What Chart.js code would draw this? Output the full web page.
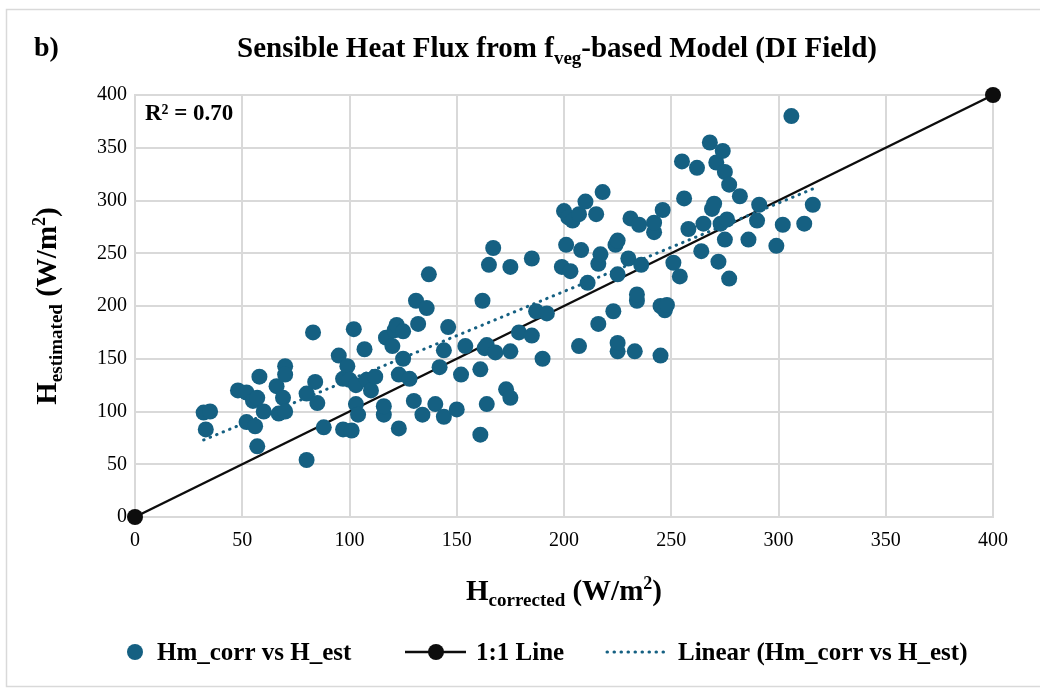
<!DOCTYPE html>
<html><head><meta charset="utf-8">
<script src="https://cdn.jsdelivr.net/npm/chart.js@4.4.1/dist/chart.umd.min.js"></script>
<style>html,body{margin:0;padding:0;background:#fff;}#wrap{width:1040px;height:688px;}</style>
</head><body><div id="wrap"><canvas id="c" width="1040" height="688"></canvas></div>
<script>
// ---- data ----
const hCorrected = [32,35,33,48,52,52,55,57,58,56,57,60,66,67,69,70,70,70,80,80,83,84,85,88,95,97,97,99,100,101,102,103,103,104,107,108,110,112,116,116,117,120,121,122,123,123,125,125,128,130,131,132,134,136,137,140,142,144,144,146,150,152,154,161,161,162,163,164,164,165,167,168,173,175,175,175,179,185,185,187,190,192,199,200,201,202,203,204,207,207,208,210,211,215,216,216,217,218,223,224,225,225,225,225,230,231,233,234,234,236,235,242,242,245,245,246,247,248,251,254,255,256,258,262,264,265,268,269,270,271,272,273,274,275,275,276,277,277,282,286,290,291,299,302,306,312,316];
const hEstimated = [99,100,83,120,118,90,110,113,133,86,67,100,124,98,113,100,143,135,54,117,175,128,108,85,153,131,83,143,130,82,178,125,107,97,159,130,120,133,97,105,170,162,177,182,135,84,176,150,131,110,205,183,97,198,230,107,142,95,158,180,102,135,162,140,78,205,160,107,163,239,255,156,121,113,237,157,175,245,172,195,150,193,237,290,258,284,233,281,287,162,253,299,222,287,183,240,249,308,195,258,262,157,165,230,245,283,157,205,211,239,277,270,279,153,200,291,196,201,241,228,337,302,273,331,252,278,355,292,297,336,242,278,347,327,263,282,226,315,304,263,281,296,257,277,380,278,296];
const oneToOneX = [0, 400];
const oneToOneY = [0, 400];
const trendX = [32, 316];
const trendY = [73, 311];
const xTickValues = [0,50,100,150,200,250,300,350,400];
const yTickValues = [0,50,100,150,200,250,300,350,400];
const seriesNames = ['Hm_corr vs H_est', '1:1 Line', 'Linear (Hm_corr vs H_est)'];
const rSquared = '0.70';

const FONT = '"Liberation Serif","Times New Roman",serif';
const BLUE = '#156082';
const GRID = '#d9d9d9';

function toPts(xs, ys){ return xs.map((x,i)=>({x:x, y:ys[i]})); }

function rich(ctx, parts, x, y, align){
  let w = 0;
  parts.forEach(p=>{ ctx.font = 'bold '+p.s+'px '+FONT; p.w = ctx.measureText(p.t).width; w += p.w; });
  let cx = align === 'center' ? x - w/2 : x;
  parts.forEach(p=>{ ctx.font = 'bold '+p.s+'px '+FONT; ctx.fillText(p.t, cx, y + (p.dy||0)); cx += p.w; });
}

const deco = {
  id: 'deco',
  beforeDraw(chart){
    const ctx = chart.ctx;
    ctx.save();
    ctx.fillStyle = '#fff';
    ctx.fillRect(0,0,chart.width,chart.height);
    ctx.strokeStyle = GRID; ctx.lineWidth = 1.5;
    ctx.strokeRect(6.5, 9.5, 1100, 677);
    ctx.restore();
  },
  afterDatasetsDraw(chart){
    const ctx = chart.ctx;
    ctx.save();
    ctx.fillStyle = '#000';
    ctx.textAlign = 'left'; ctx.textBaseline = 'alphabetic';
    // panel label
    ctx.font = 'bold 28px '+FONT;
    ctx.fillText('b)', 34, 56);
    // title
    rich(ctx, [
      {t:'Sensible Heat Flux from f', s:29},
      {t:'veg', s:19, dy:7},
      {t:'-based Model (DI Field)', s:29}
    ], 557, 57, 'center');
    // x axis title
    rich(ctx, [
      {t:'H', s:29},
      {t:'corrected', s:19, dy:6},
      {t:' (W/m', s:29},
      {t:'2', s:18, dy:-11},
      {t:')', s:29}
    ], 564, 600, 'center');
    // y axis title
    ctx.save();
    ctx.translate(56, 306);
    ctx.rotate(-Math.PI/2);
    rich(ctx, [
      {t:'H', s:29},
      {t:'estimated', s:19, dy:6},
      {t:' (W/m', s:29},
      {t:'2', s:18, dy:-11},
      {t:')', s:29}
    ], 0, 0, 'center');
    ctx.restore();
    // R^2 box
    ctx.fillStyle = '#fff';
    ctx.fillRect(137, 97, 103, 36);
    ctx.fillStyle = '#000';
    ctx.font = 'bold 23px '+FONT;
    ctx.fillText('R² = '+rSquared, 145, 120);
    // legend
    const ly = 652;
    ctx.fillStyle = BLUE;
    ctx.beginPath(); ctx.arc(135, ly, 8, 0, Math.PI*2); ctx.fill();
    ctx.fillStyle = '#000';
    ctx.font = 'bold 25px '+FONT;
    ctx.fillText(seriesNames[0], 157, ly+8);
    ctx.strokeStyle = '#0d0d0d'; ctx.lineWidth = 2.5;
    ctx.beginPath(); ctx.moveTo(405, ly); ctx.lineTo(466, ly); ctx.stroke();
    ctx.fillStyle = '#0d0d0d';
    ctx.beginPath(); ctx.arc(436, ly, 8, 0, Math.PI*2); ctx.fill();
    ctx.fillStyle = '#000';
    ctx.fillText(seriesNames[1], 476, ly+8);
    ctx.strokeStyle = BLUE; ctx.lineWidth = 3; ctx.lineCap = 'round';
    ctx.setLineDash([0.5, 6.5]);
    ctx.beginPath(); ctx.moveTo(607, ly); ctx.lineTo(669, ly); ctx.stroke();
    ctx.setLineDash([]);
    ctx.fillText(seriesNames[2], 678, ly+8);
    ctx.restore();
  }
};

new Chart(document.getElementById('c'), {
  type: 'scatter',
  data: {
    datasets: [
      { label: seriesNames[0], data: toPts(hCorrected, hEstimated), backgroundColor: BLUE, borderWidth: 0,
        pointRadius: 8, pointHoverRadius: 8, order: 0, clip: false },
      { label: seriesNames[1], data: toPts(oneToOneX, oneToOneY), showLine: true, borderColor: '#0d0d0d',
        backgroundColor: '#0d0d0d', borderWidth: 2.5, pointRadius: 8, pointBorderWidth: 0, order: 2, clip: false },
      { label: seriesNames[2], data: toPts(trendX, trendY), showLine: true, borderColor: BLUE,
        borderWidth: 3, borderDash: [0.5, 6.5], borderCapStyle: 'round', pointRadius: 0, order: 1, clip: false }
    ]
  },
  options: {
    responsive: false, animation: false,
    layout: { padding: { left: 0, right: 47, top: 95, bottom: 131 } },
    plugins: { legend: { display: false }, title: { display: false }, tooltip: { enabled: false } },
    scales: {
      x: {
        type: 'linear', min: 0, max: 400,
        afterFit(s){ s.height = 40; },
        afterBuildTicks(s){ s.ticks = xTickValues.map(v=>({value:v})); },
        grid: { color: GRID, lineWidth: 2, drawTicks: false },
        border: { color: GRID, width: 2 },
        ticks: { color: '#000', padding: 12, font: { family: FONT, size: 20 } }
      },
      y: {
        type: 'linear', min: 0, max: 400,
        afterFit(s){ s.width = 135; },
        afterBuildTicks(s){ s.ticks = yTickValues.map(v=>({value:v})); },
        grid: { color: GRID, lineWidth: 2, drawTicks: false },
        border: { color: GRID, width: 2 },
        ticks: { color: '#000', padding: 8, font: { family: FONT, size: 20 } }
      }
    }
  },
  plugins: [deco]
});
</script></body></html>
